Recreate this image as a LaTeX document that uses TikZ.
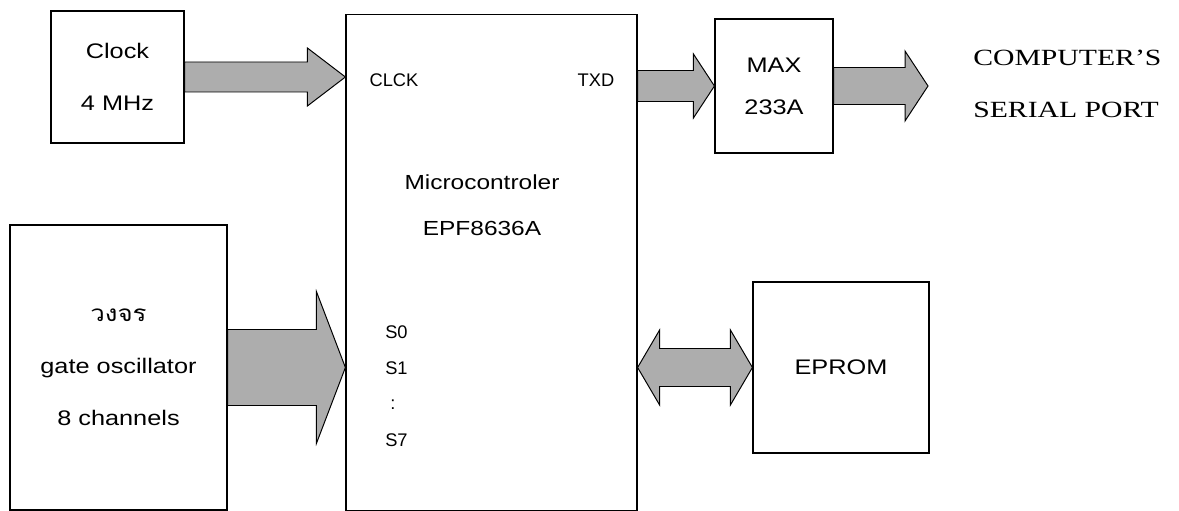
\documentclass[tikz,border=0pt]{standalone}
\usepackage{fontspec}
\usepackage{tikz}
\usetikzlibrary{calc}
\newfontfamily\boxfont[FakeStretch=1.2]{Liberation Sans}
\newfontfamily\pinfont{Liberation Sans}
\newfontfamily\portfont[FakeStretch=1.28]{Liberation Serif}
\newfontfamily\thaifont[Script=Thai,FakeStretch=1.15]{Loma}

\newcommand{\busarrow}[5]{%
  \draw[bus] ($(#1)+(0,-#3)$) -- ($(#2)+(-#5,-#3)$) -- ($(#2)+(-#5,-#4)$) -- (#2)
    -- ($(#2)+(-#5,#4)$) -- ($(#2)+(-#5,#3)$) -- ($(#1)+(0,#3)$) -- cycle;}
\newcommand{\dualarrow}[5]{%
  \draw[bus] (#1) -- ($(#1)+(#5,-#4)$) -- ($(#1)+(#5,-#3)$) -- ($(#2)+(-#5,-#3)$)
    -- ($(#2)+(-#5,-#4)$) -- (#2) -- ($(#2)+(-#5,#4)$) -- ($(#2)+(-#5,#3)$)
    -- ($(#1)+(#5,#3)$) -- ($(#1)+(#5,#4)$) -- cycle;}

\begin{document}
\begin{tikzpicture}[x=0.025cm, y=-0.025cm,
    box/.style={draw, line width=0.8pt, align=center, font=\boxfont\fontsize{15}{37}\selectfont},
    pin/.style={font=\pinfont\fontsize{13}{15}\selectfont},
    bus/.style={draw, line width=0.7pt, fill=black!32}]
  \useasboundingbox (0,0) rectangle (1179,511);
  \node[box, minimum width=3.325cm, minimum height=3.3cm] (clock) at (117.5,77) {Clock\\4 MHz};
  \node[draw, line width=0.8pt, minimum width=7.275cm, minimum height=12.375cm] (mcu) at (491.5,262.5) {};
  \node[box, minimum width=2.95cm, minimum height=3.35cm, font=\boxfont\fontsize{15}{30}\selectfont] (max) at (774,86) {MAX\\233A};
  \node[box, minimum width=5.425cm, minimum height=7.125cm] (gate) at (118.5,367.5) {{\thaifont\fontsize{16}{37}\selectfont วงจร}\\gate oscillator\\8 channels};
  \node[box, minimum width=4.4cm, minimum height=4.275cm] (eprom) at (841,367.5) {EPROM};
  \node[align=center, font=\boxfont\fontsize{14.5}{32.7}\selectfont] (mcuname) at (482,205) {Microcontroler\\EPF8636A};
  \node[anchor=west, inner sep=0pt, align=left, font=\portfont\fontsize{16.5}{37}\selectfont] (port) at (973,83.5) {COMPUTER’S\\SERIAL PORT};

  \node[pin] (clck) at (394,80) {CLCK};
  \node[pin] (txd) at (596,80) {TXD};
  \node[pin, anchor=west, inner sep=0pt] (szero) at (385,332) {S0};
  \node[pin, anchor=west, inner sep=0pt] (sone) at (385,368) {S1};
  \node[pin] (sdots) at (393,405) {:};
  \node[pin, anchor=west, inner sep=0pt] (sseven) at (385,440) {S7};

  \coordinate (clkin) at (mcu.west |- clock.east);
  \coordinate (txdout) at (mcu.east |- max.west);
  \coordinate (portend) at (928,86);
  \coordinate (sin) at (mcu.west |- gate.east);
  \coordinate (memio) at (mcu.east |- eprom.west);
  \busarrow{clock.east}{clkin}{15}{29}{38}
  \busarrow{txdout}{max.west}{15.5}{32}{21}
  \busarrow{max.east}{portend}{18.5}{35}{23}
  \busarrow{gate.east}{sin}{38}{76}{29}
  \dualarrow{memio}{eprom.west}{19}{37.5}{22}
\end{tikzpicture}
\end{document}
